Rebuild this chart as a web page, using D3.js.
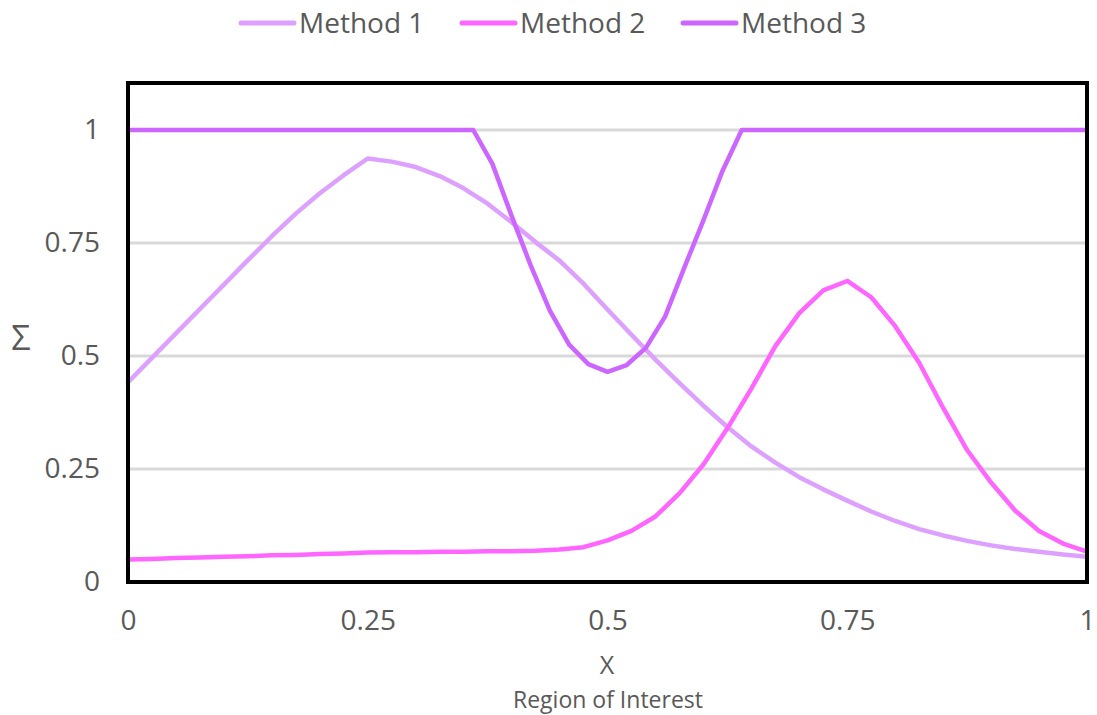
<!DOCTYPE html>
<html>
<head>
<meta charset="utf-8">
<script src="https://cdn.jsdelivr.net/npm/d3@7"></script>
<style>
  html, body { margin: 0; padding: 0; background: #fff; }
  svg text { font-family: "Open Sans", "Noto Sans", sans-serif; fill: #595959; }
</style>
</head>
<body>
<svg id="chart" width="1097" height="715"></svg>
<script>
// Sample positions shared by Method 1 and Method 2
const xGrid = [0, 0.025, 0.05, 0.075, 0.1, 0.125, 0.15, 0.175, 0.2, 0.225, 0.25,
  0.275, 0.3, 0.325, 0.35, 0.375, 0.4, 0.425, 0.45, 0.475, 0.5,
  0.525, 0.55, 0.575, 0.6, 0.625, 0.65, 0.675, 0.7, 0.725, 0.75,
  0.775, 0.8, 0.825, 0.85, 0.875, 0.9, 0.925, 0.95, 0.975, 1];

const method1 = [0.442, 0.496, 0.55, 0.604, 0.658, 0.712, 0.765, 0.815, 0.86, 0.9, 0.937,
  0.93, 0.918, 0.898, 0.871, 0.837, 0.796, 0.752, 0.711, 0.66, 0.603,
  0.547, 0.492, 0.44, 0.39, 0.343, 0.3, 0.264, 0.232, 0.205, 0.18,
  0.156, 0.135, 0.117, 0.103, 0.091, 0.081, 0.073, 0.067, 0.061, 0.056];

const method2 = [0.05, 0.051, 0.053, 0.054, 0.056, 0.057, 0.059, 0.06, 0.062, 0.063, 0.065,
  0.066, 0.066, 0.067, 0.067, 0.068, 0.068, 0.069, 0.072, 0.077, 0.092,
  0.113, 0.145, 0.196, 0.26, 0.34, 0.428, 0.522, 0.595, 0.645, 0.666,
  0.63, 0.566, 0.485, 0.385, 0.292, 0.22, 0.158, 0.113, 0.085, 0.067];

// Method 3 is capped at 1 outside its dip
const xMethod3 = [0, 0.36, 0.38, 0.4, 0.42, 0.44, 0.46, 0.48, 0.5,
  0.52, 0.54, 0.56, 0.58, 0.6, 0.62, 0.64, 1];
const method3 = [1, 1, 0.925, 0.81, 0.70, 0.60, 0.525, 0.482, 0.465,
  0.48, 0.518, 0.587, 0.695, 0.80, 0.91, 1, 1];

const seriesNames = ["Method 1", "Method 2", "Method 3"];
const seriesColors = ["#DDA0FF", "#FF66FF", "#CC66FF"];

const xTicks = [0, 0.25, 0.5, 0.75, 1];
const xTickLabels = ["0", "0.25", "0.5", "0.75", "1"];
const yTicks = [0, 0.25, 0.5, 0.75, 1];
const yTickLabels = ["0", "0.25", "0.5", "0.75", "1"];

const svg = d3.select("#chart");

const plot = { left: 128, right: 1087, top: 83, bottom: 582 };
const x = d3.scaleLinear().domain([0, 1]).range([plot.left, plot.right]);
const y = d3.scaleLinear().domain([0, 1.1]).range([plot.bottom, plot.bottom - 1.1 * 452]);

// Horizontal gridlines
svg.append("g")
  .selectAll("line")
  .data(yTicks.filter(d => d > 0))
  .join("line")
  .attr("x1", plot.left).attr("x2", plot.right)
  .attr("y1", d => y(d)).attr("y2", d => y(d))
  .attr("stroke", "#D9D9D9").attr("stroke-width", 3);

// Y axis labels
const yAxis = d3.axisLeft(y).tickValues(yTicks)
  .tickFormat((d, i) => yTickLabels[i]).tickSize(0).tickPadding(28);
svg.append("g").attr("transform", `translate(${plot.left},0)`).call(yAxis)
  .call(g => g.select(".domain").remove())
  .call(g => g.selectAll("text").attr("font-size", 28)
    .attr("font-family", "'Open Sans', sans-serif").attr("fill", "#595959"));

// X axis labels
const xAxis = d3.axisBottom(x).tickValues(xTicks)
  .tickFormat((d, i) => xTickLabels[i]).tickSize(0).tickPadding(28);
svg.append("g").attr("transform", `translate(0,${plot.bottom})`).call(xAxis)
  .call(g => g.select(".domain").remove())
  .call(g => g.selectAll("text").attr("font-size", 28)
    .attr("font-family", "'Open Sans', sans-serif").attr("fill", "#595959"));

// Series lines
const line = d3.line().x(d => x(d[0])).y(d => y(d[1]));
const seriesData = [
  d3.zip(xGrid, method1),
  d3.zip(xGrid, method2),
  d3.zip(xMethod3, method3)
];
svg.append("g")
  .selectAll("path")
  .data(seriesData)
  .join("path")
  .attr("d", line)
  .attr("fill", "none")
  .attr("stroke", (d, i) => seriesColors[i])
  .attr("stroke-width", 4.5)
  .attr("stroke-linejoin", "round")
  .attr("stroke-linecap", "round");

// Plot frame
svg.append("rect")
  .attr("x", plot.left).attr("y", plot.top)
  .attr("width", plot.right - plot.left).attr("height", plot.bottom - plot.top)
  .attr("fill", "none").attr("stroke", "#000").attr("stroke-width", 4);

// Axis titles
svg.append("text").attr("x", 607).attr("y", 674).attr("text-anchor", "middle")
  .attr("font-size", 25).text("X");
svg.append("text").attr("x", 608).attr("y", 708).attr("text-anchor", "middle")
  .attr("font-size", 23).text("Region of Interest");
svg.append("text").attr("x", 21).attr("y", 350).attr("text-anchor", "middle")
  .attr("font-size", 34).text("Σ");

// Legend
const legendX = [241, 462, 683];
const legend = svg.append("g").selectAll("g").data(seriesNames).join("g")
  .attr("transform", (d, i) => `translate(${legendX[i]},23)`);
legend.append("line")
  .attr("x1", 0).attr("x2", 53).attr("y1", 0).attr("y2", 0)
  .attr("stroke", (d, i) => seriesColors[i]).attr("stroke-width", 5)
  .attr("stroke-linecap", "round");
legend.append("text")
  .attr("x", 58).attr("y", 10)
  .attr("font-size", 28)
  .text(d => d);
</script>
</body>
</html>
